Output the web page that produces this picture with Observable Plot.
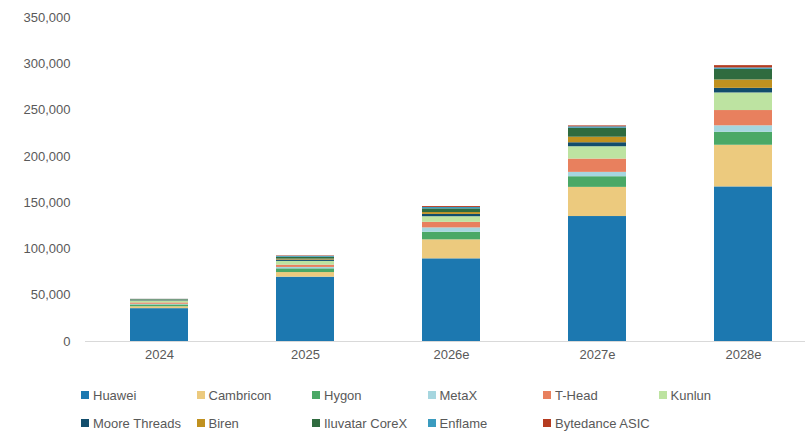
<!DOCTYPE html>
<html>
<head>
<meta charset="utf-8">
<script src="https://cdn.jsdelivr.net/npm/d3@7"></script>
<script src="https://cdn.jsdelivr.net/npm/@observablehq/plot@0.6"></script>
<style>
  html, body { margin: 0; padding: 0; background: #fff; }
  #wrap { width: 805px; height: 433px; position: relative; font-family: "Liberation Sans", Arial, sans-serif; }
  .legend { position: absolute; left: 0; top: 375px; width: 805px; }
  .item { position: absolute; display: flex; align-items: center; font-size: 13px; color: #595959; white-space: nowrap; }
  .sw { width: 8px; height: 8px; margin-right: 4px; display: inline-block; }
</style>
</head>
<body>
<div id="wrap"><div id="chart"></div><div class="legend" id="legend"></div></div>
<script>
const years = ["2024", "2025", "2026e", "2027e", "2028e"];
const seriesNames = ["Huawei", "Cambricon", "Hygon", "MetaX", "T-Head", "Kunlun", "Moore Threads", "Biren", "Iluvatar CoreX", "Enflame", "Bytedance ASIC"];
const colors = ["#1c78b0", "#ecca7e", "#4aa866", "#a6d6df", "#e8805e", "#bde3a1", "#124d6c", "#c0911f", "#2f6b3f", "#3a9bbf", "#b53b20"];
const Huawei        = [35500, 69500, 89300, 135000, 167000];
const Cambricon     = [2000, 5000, 20500, 31500, 45000];
const Hygon         = [2000, 4000, 8200, 11500, 14000];
const MetaX         = [700, 1500, 4700, 4700, 7000];
const THead         = [1500, 2500, 6000, 14400, 16500];
const Kunlun        = [2000, 4000, 6100, 13300, 19000];
const MooreThreads  = [500, 1500, 2500, 4300, 5000];
const Biren         = [400, 1000, 2000, 6000, 9000];
const IluvatarCoreX = [600, 2000, 4000, 9700, 11500];
const Enflame       = [300, 1000, 1500, 1500, 1500];
const BytedanceASIC = [100, 500, 1000, 1000, 2500];
const seriesValues = [Huawei, Cambricon, Hygon, MetaX, THead, Kunlun, MooreThreads, Biren, IluvatarCoreX, Enflame, BytedanceASIC];
const yTicks = [0, 50000, 100000, 150000, 200000, 250000, 300000, 350000];

const data = [];
years.forEach((yr, i) => {
  seriesNames.forEach((s, j) => data.push({year: yr, series: s, value: seriesValues[j][i]}));
});

const chart = Plot.plot({
  width: 805,
  height: 375,
  marginTop: 17,
  marginBottom: 34,
  marginLeft: 85,
  marginRight: 0,
  style: {fontFamily: "Liberation Sans, Arial, sans-serif", fontSize: "13px", color: "#595959", background: "#fff"},
  x: {domain: years, range: [85, 817], paddingInner: 0.6, paddingOuter: 0.3, label: null},
  y: {domain: [0, 350000], label: null},
  color: {domain: seriesNames, range: colors},
  marks: [
    Plot.axisY({ticks: yTicks, tickFormat: d3.format(","), tickSize: 0, tickPadding: 15, label: null, fill: "#595959"}),
    Plot.axisX({tickSize: 0, tickPadding: 8, label: null, fill: "#595959"}),
    Plot.barY(data, {x: "year", y: "value", z: "series", fill: "series", order: null}),
    Plot.ruleY([0], {stroke: "#d9d9d9", strokeWidth: 1})
  ]
});
document.getElementById("chart").appendChild(chart);

const legend = document.getElementById("legend");
const cols = 6, colW = 115.5, left0 = 81;
seriesNames.forEach((s, i) => {
  const r = Math.floor(i / cols), c = i % cols;
  const el = document.createElement("div");
  el.className = "item";
  el.style.left = (left0 + c * colW) + "px";
  el.style.top = (10 + r * 28) + "px";
  el.style.height = "20px";
  el.innerHTML = `<span class="sw" style="background:${colors[i]}"></span>${s}`;
  legend.appendChild(el);
});
</script>
</body>
</html>
